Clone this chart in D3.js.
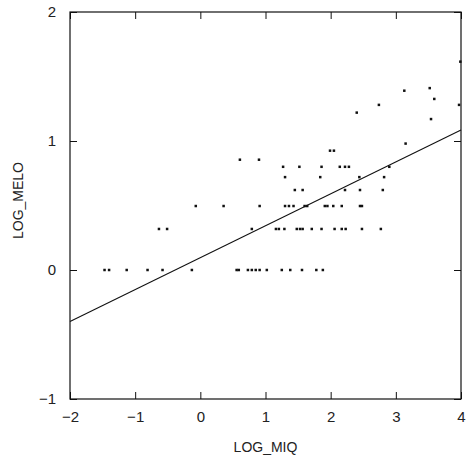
<!DOCTYPE html>
<html>
<head>
<meta charset="utf-8">
<script src="https://cdn.jsdelivr.net/npm/d3@7"></script>
<style>
  html, body { margin: 0; padding: 0; background: #fff; }
  svg text { font-family: "Liberation Sans", Arial, Helvetica, sans-serif; fill: #222; }
</style>
</head>
<body>
<svg id="chart" width="466" height="467"></svg>
<script>
// LOG_MIQ vs LOG_MELO scatter with least-squares line
const logMiq = [
  3.99,
  3.52, 3.13, 3.59, 2.74, 3.97, 2.40, 3.54, 3.15,
  1.99, 2.05,
  0.607, 0.90,
  1.27, 1.52, 1.86, 2.14, 2.22, 2.28, 2.90,
  1.30, 1.84, 2.44, 2.82,
  1.45, 1.57, 2.22, 2.45, 2.80,
  -0.07, 0.357, 0.91, 1.30, 1.36, 1.43, 1.60, 1.64, 1.91, 1.95, 2.04, 2.17, 2.45, 2.48,
  -0.635, -0.51, 0.79, 1.16, 1.205, 1.29, 1.48, 1.53, 1.57, 1.71, 1.86, 2.06, 2.17, 2.23, 2.48, 2.77,
  -1.47, -1.40, -1.13, -0.81, -0.58, -0.13, 0.557, 0.59, 0.73, 0.79, 0.85, 0.91, 1.02, 1.25, 1.38, 1.56, 1.78, 1.88
];
const logMelo = [
  1.615,
  1.41, 1.39, 1.326, 1.28, 1.28, 1.22, 1.17, 0.98,
  0.925, 0.925,
  0.855, 0.855,
  0.80, 0.80, 0.80, 0.80, 0.80, 0.80, 0.80,
  0.72, 0.72, 0.72, 0.72,
  0.62, 0.62, 0.62, 0.62, 0.62,
  0.496, 0.496, 0.496, 0.496, 0.496, 0.496, 0.496, 0.496, 0.496, 0.496, 0.496, 0.496, 0.496, 0.496,
  0.318, 0.318, 0.318, 0.318, 0.318, 0.318, 0.318, 0.318, 0.318, 0.318, 0.318, 0.318, 0.318, 0.318, 0.318, 0.318,
  0, 0, 0, 0, 0, 0, 0, 0, 0, 0, 0, 0, 0, 0, 0, 0, 0, 0
];
// fitted line endpoints
const fitX = [-2, 4];
const fitY = [-0.40, 1.085];

const xTicks = [-2, -1, 0, 1, 2, 3, 4];
const yTicks = [-1, 0, 1, 2];
const xTitle = "LOG_MIQ";
const yTitle = "LOG_MELO";

const svg = d3.select("#chart");
const plotLeft = 70, plotRight = 461, plotTop = 12, plotBottom = 399;

const x = d3.scaleLinear().domain([-2, 4]).range([plotLeft, plotRight]);
const y = d3.scaleLinear().domain([-1, 2]).range([plotBottom, plotTop]);

const tickLen = 7;
const fmt = d => d < 0 ? "\u2212" + Math.abs(d) : String(d);

// axes with inward ticks on all four sides
const gBottom = svg.append("g").attr("transform", `translate(0,${plotBottom})`)
  .call(d3.axisBottom(x).tickValues(xTicks).tickSizeInner(-tickLen).tickSizeOuter(0)
        .tickPadding(12).tickFormat(fmt));
const gTop = svg.append("g").attr("transform", `translate(0,${plotTop})`)
  .call(d3.axisTop(x).tickValues(xTicks).tickSizeInner(-tickLen).tickSizeOuter(0).tickFormat(""));
const gLeft = svg.append("g").attr("transform", `translate(${plotLeft},0)`)
  .call(d3.axisLeft(y).tickValues(yTicks).tickSizeInner(-tickLen).tickSizeOuter(0)
        .tickPadding(14).tickFormat(fmt));
const gRight = svg.append("g").attr("transform", `translate(${plotRight},0)`)
  .call(d3.axisRight(y).tickValues(yTicks).tickSizeInner(-tickLen).tickSizeOuter(0).tickFormat(""));

[gBottom, gTop, gLeft, gRight].forEach(g => {
  g.select(".domain").remove();
  g.selectAll("line").attr("stroke", "#111").attr("stroke-width", 1);
  g.selectAll("text").attr("font-size", 15).attr("fill", "#222")
    .style("font-family", "'Liberation Sans', Arial, sans-serif");
});

// frame
svg.append("rect")
  .attr("x", plotLeft).attr("y", plotTop)
  .attr("width", plotRight - plotLeft).attr("height", plotBottom - plotTop)
  .attr("fill", "none").attr("stroke", "#111").attr("stroke-width", 1.2);

// points
const pts = logMiq.map((v, i) => [v, logMelo[i]]);
svg.append("g").selectAll("rect").data(pts).join("rect")
  .attr("x", d => x(d[0]) - 1.25)
  .attr("y", d => y(d[1]) - 1.25)
  .attr("width", 2.5).attr("height", 2.5)
  .attr("fill", "#111");

// regression line
svg.append("path")
  .datum(fitX.map((v, i) => [v, fitY[i]]))
  .attr("d", d3.line().x(d => x(d[0])).y(d => y(d[1])))
  .attr("fill", "none").attr("stroke", "#111").attr("stroke-width", 1.1);

// titles
svg.append("text")
  .attr("x", (plotLeft + plotRight) / 2).attr("y", 452)
  .attr("text-anchor", "middle").attr("font-size", 14)
  .text(xTitle);
svg.append("text")
  .attr("transform", `translate(23,${(plotTop + plotBottom) / 2 - 5}) rotate(-90)`)
  .attr("text-anchor", "middle").attr("font-size", 14)
  .text(yTitle);
</script>
</body>
</html>
